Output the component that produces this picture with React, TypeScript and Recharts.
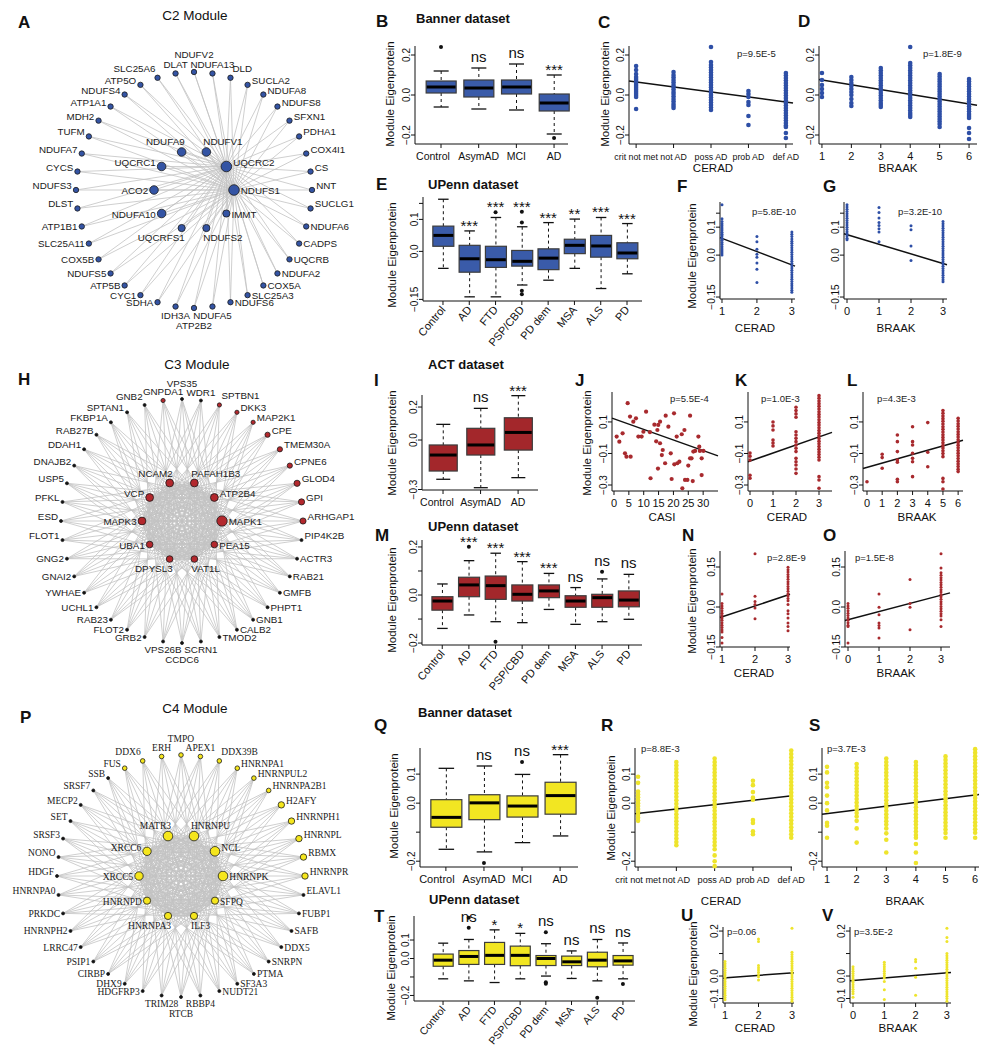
import React from 'react';
import { ComposedChart, Scatter, Bar, Line, XAxis, YAxis, ReferenceLine } from 'recharts';

const SANS = '"Liberation Sans", Arial, Helvetica, sans-serif';
const SERIF = '"Liberation Serif", "Times New Roman", Times, serif';
const INK = '#111111';

const BLUE_FILL = '#3a5ba9';
const BLUE_PT = '#2e4fa6';
const RED_FILL = '#a3272b';
const RED_PT = '#a82a2e';
const YEL_FILL = '#f2e622';
const YEL_PT = '#eee42c';

// ===================== NETWORK DATA =====================
const C2_OUTER = ['NDUFV2','NDUFA13','DLD','SUCLA2','NDUFA8','NDUFS8','SFXN1','PDHA1','COX4I1','CS','NNT','SUCLG1','NDUFA6','CADPS','UQCRB','NDUFA2','COX5A','SLC25A3','NDUFS6','NDUFA5','ATP2B2','IDH3A','SDHA','CYC1','ATP5B','NDUFS5','COX5B','SLC25A11','ATP1B1','DLST','NDUFS3','CYCS','NDUFA7','TUFM','MDH2','ATP1A1','NDUFS4','ATP5O','SLC25A6','DLAT'];
const C2_INNER = ['NDUFS1','IMMT','NDUFS2','UQCRFS1','NDUFA10','ACO2','UQCRC1','NDUFA9','NDUFV1','UQCRC2'];
const C2_HUBS = ['UQCRC2','NDUFS1'];
const C2_MID = ['NDUFA9','NDUFV1','UQCRC1','ACO2','NDUFA10'];

const C3_OUTER = ['VPS35','WDR1','SPTBN1','DKK3','MAP2K1','CPE','TMEM30A','CPNE6','GLOD4','GPI','ARHGAP1','PIP4K2B','ACTR3','RAB21','GMFB','PHPT1','GNB1','CALB2','TMOD2','SCRN1','CCDC6','VPS26B','GRB2','FLOT2','RAB23','UCHL1','YWHAE','GNAI2','GNG2','FLOT1','ESD','PFKL','USP5','DNAJB2','DDAH1','RAB27B','FKBP1A','SPTAN1','GNB2','GNPDA1'];
const C3_INNER = ['MAPK1','PEA15','VAT1L','DPYSL3','UBA1','MAPK3','VCP','NCAM2','PAFAH1B3','ATP2B4'];
const C3_RED_L = ['GLOD4','GPI','ARHGAP1'];
const C3_RED_M = ['CPNE6','TMEM30A','CPE'];
const C3_RED_S = ['MAP2K1','DKK3','SPTBN1','GNPDA1'];
const C3_HUB_L = ['MAPK1'];
const C3_HUB_M = ['ATP2B4','NCAM2','PAFAH1B3','VCP','MAPK3'];

const C4_OUTER = ['TMPO','APEX1','DDX39B','HNRNPA1','HNRNPUL2','HNRNPA2B1','H2AFY','HNRNPH1','HNRNPL','RBMX','HNRNPR','ELAVL1','FUBP1','SAFB','DDX5','SNRPN','PTMA','SF3A3','NUDT21','RBBP4','RTCB','TRIM28','HDGFRP3','DHX9','CIRBP','PSIP1','LRRC47','HNRNPH2','PRKDC','HNRNPA0','HDGF','NONO','SRSF3','SET','MECP2','SRSF7','SSB','FUS','DDX6','ERH'];
const C4_INNER = ['HNRNPK','SFPQ','ILF3','HNRNPA3','HNRNPD','XRCC5','XRCC6','MATR3','HNRNPU','NCL'];
const C4_YEL_L = ['H2AFY','HNRNPH1','HNRNPL','RBMX','HNRNPR'];
const C4_YEL_S = ['TMPO','APEX1','DDX39B','HNRNPA1','HNRNPUL2','HNRNPA2B1','ERH','DDX6','FUS'];
const C4_HUB_L = ['HNRNPK','NCL','MATR3','HNRNPU'];
const C4_HUB_M = ['XRCC6','XRCC5'];

// ===================== BOX PLOT DATA =====================
const BANNER_GROUPS = ['Control','AsymAD','MCI','AD'];
const UPENN_GROUPS = ['Control','AD','FTD','PSP/CBD','PD dem','MSA','ALS','PD'];
const ACT_GROUPS = ['Control','AsymAD','AD'];

const B_LO = [-0.06,-0.07,-0.075,-0.195];
const B_Q1 = [0.01,-0.01,0.005,-0.08];
const B_MED = [0.04,0.035,0.04,-0.04];
const B_Q3 = [0.07,0.075,0.075,0.005];
const B_HI = [0.12,0.135,0.155,0.10];
const B_SIG = ['','ns','ns','***'];
const B_OUT: [string, number][] = [['Control',0.24],['AD',-0.215]];

const E_LO = [-0.053,-0.142,-0.142,-0.105,-0.09,-0.053,-0.116,-0.07];
const E_Q1 = [0.016,-0.065,-0.05,-0.046,-0.057,-0.007,-0.018,-0.023];
const E_MED = [0.05,-0.023,-0.026,-0.031,-0.021,0.019,0.017,-0.005];
const E_Q3 = [0.079,0.019,0.016,0.003,0.008,0.038,0.05,0.027];
const E_HI = [0.163,0.064,0.106,0.077,0.09,0.101,0.106,0.087];
const E_SIG = ['','***','***','***','***','**','***','***'];
const E_OUT: [string, number][] = [['FTD',0.122],['PSP/CBD',0.124],['PSP/CBD',0.09],['PSP/CBD',-0.123],['PSP/CBD',-0.134]];

const I_LO = [-0.238,-0.289,-0.228];
const I_Q1 = [-0.188,-0.091,-0.061];
const I_MED = [-0.091,-0.03,0.046];
const I_Q3 = [-0.03,0.071,0.135];
const I_HI = [0.095,0.192,0.269];
const I_SIG = ['','ns','***'];
const I_OUT: [string, number][] = [];

const M_LO = [-0.139,-0.083,-0.111,-0.115,-0.06,-0.122,-0.111,-0.101];
const M_Q1 = [-0.063,-0.007,-0.018,-0.025,-0.011,-0.051,-0.051,-0.049];
const M_MED = [-0.025,0.042,0.039,0.003,0.017,-0.025,-0.011,-0.021];
const M_Q3 = [-0.007,0.074,0.079,0.042,0.042,-0.003,0.003,0.017];
const M_HI = [0.046,0.143,0.174,0.139,0.09,0.031,0.067,0.086];
const M_SIG = ['','***','***','***','***','ns','ns','ns'];
const M_OUT: [string, number][] = [['AD',0.201],['FTD',-0.194],['ALS',0.097]];

const Q_LO = [-0.159,-0.168,-0.136,-0.113];
const Q_Q1 = [-0.083,-0.057,-0.048,-0.038];
const Q_MED = [-0.049,0.001,-0.01,0.026];
const Q_Q3 = [0.012,0.029,0.025,0.072];
const Q_HI = [0.12,0.128,0.099,0.167];
const Q_SIG = ['','ns','ns','***'];
const Q_OUT: [string, number][] = [['AsymAD',-0.206],['MCI',0.142]];

const T_LO = [-0.11,-0.121,-0.13,-0.11,-0.095,-0.108,-0.121,-0.11];
const T_Q1 = [-0.042,-0.032,-0.032,-0.039,-0.038,-0.038,-0.045,-0.036];
const T_MED = [-0.009,0.011,0.017,0.017,0.0,-0.018,-0.009,-0.013];
const T_Q3 = [0.024,0.043,0.087,0.067,0.016,0.013,0.034,0.016];
const T_HI = [0.083,0.103,0.155,0.136,0.08,0.041,0.103,0.084];
const T_SIG = ['','ns','*','*','ns','ns','ns','ns'];
const T_OUT: [string, number][] = [['AD',0.221],['AD',0.166],['PD dem',0.142],['PD dem',-0.128],['PD dem',-0.137],['ALS',-0.213],['PD',-0.138]];

// ===================== SCATTER DATA =====================
const CERAD5 = ['crit not met','not AD','poss AD','prob AD','def AD'];

const C_X = [1,2,3,4,5];
const C_Y = [
  [0.145,0.125,0.105,0.09,0.08,0.07,0.06,0.05,0.04,0.03,0.02,0.01,0.0,-0.01,-0.07],
  [0.115,0.1,0.088,0.075,0.063,0.05,0.04,0.028,0.015,0.005,-0.008,-0.02,-0.032,-0.045,-0.055,-0.065],
  [0.24,0.165,0.15,0.138,0.125,0.112,0.1,0.088,0.075,0.063,0.05,0.038,0.025,0.013,0.0,-0.012,-0.025,-0.038,-0.05,-0.063,-0.075],
  [0.02,0.005,-0.01,-0.035,-0.05,-0.105,-0.15],
  [0.11,0.098,0.085,0.072,0.06,0.047,0.035,0.022,0.01,-0.003,-0.015,-0.028,-0.04,-0.053,-0.065,-0.078,-0.09,-0.103,-0.115,-0.128,-0.14,-0.152,-0.16,-0.19,-0.215],
];
const C_REG_X = [0.81, 5.19];
const C_REG_Y = [0.0698, -0.0398];

const D_X = [1,2,3,4,5,6];
const D_Y = [
  [0.11,0.075,0.05,0.03,0.01,-0.01],
  [0.09,0.075,0.06,0.045,0.03,0.015,0.0,-0.02,-0.04,-0.055],
  [0.135,0.122,0.11,0.097,0.085,0.072,0.06,0.047,0.035,0.022,0.01,-0.003,-0.015,-0.028,-0.04,-0.05,-0.06],
  [0.24,0.16,0.148,0.135,0.122,0.11,0.097,0.085,0.072,0.06,0.047,0.035,0.022,0.01,-0.003,-0.015,-0.028,-0.04,-0.053,-0.065,-0.078,-0.09,-0.1,-0.11],
  [0.105,0.093,0.08,0.068,0.055,0.043,0.03,0.018,0.005,-0.008,-0.02,-0.033,-0.045,-0.058,-0.07,-0.083,-0.095,-0.108,-0.12,-0.133,-0.145,-0.16],
  [0.08,0.068,0.055,0.043,0.03,0.018,0.005,-0.008,-0.02,-0.033,-0.045,-0.058,-0.07,-0.083,-0.095,-0.105,-0.115,-0.165,-0.19,-0.22],
];
const D_REG_X = [0.9, 6.27];
const D_REG_Y = [0.0774, -0.0515];

const F_X = [1,2,3];
const F_Y = [
  [0.18,0.13,0.12,0.112,0.105,0.097,0.09,0.082,0.075,0.068,0.06,0.053,0.045,0.038,0.03,0.022,0.015,0.008,0.0],
  [0.067,0.048,0.021,0.003,-0.008,-0.028,-0.051,-0.098],
  [0.083,0.075,0.067,0.058,0.05,0.042,0.034,0.026,0.018,0.01,0.002,-0.006,-0.014,-0.022,-0.03,-0.038,-0.046,-0.054,-0.062,-0.07,-0.078,-0.086,-0.094,-0.102,-0.11,-0.118,-0.126,-0.133],
];
const F_REG_X = [0.943, 3.09];
const F_REG_Y = [0.0627, -0.0393];

const G_X = [0,1,2,3];
const G_Y = [
  [0.18,0.172,0.164,0.156,0.148,0.14,0.132,0.124,0.116,0.108,0.1,0.092,0.084,0.076,0.068,0.06,0.055],
  [0.17,0.152,0.133,0.117,0.106,0.094,0.083,0.048],
  [0.105,0.091,0.033,-0.019],
  [0.12,0.112,0.104,0.096,0.088,0.08,0.072,0.064,0.056,0.048,0.04,0.032,0.024,0.016,0.008,0.0,-0.008,-0.016,-0.024,-0.032,-0.04,-0.048,-0.056,-0.064,-0.072,-0.08,-0.088,-0.095],
];
const G_REG_X = [-0.094, 3.125];
const G_REG_Y = [0.0762, -0.0342];

const J_CASI = [0.9,1.8,2.9,3.7,4.2,4.6,5.4,5.6,6.5,7.4,8.2,9.3,9.9,10.8,12.3,12.1,13.6,14.2,14.6,14.8,14.9,15.5,15.5,16.1,16.4,17.4,17.2,18.3,19.1,19.4,20.2,20.3,21.1,21.3,22.0,22.8,23.0,23.7,23.9,24.7,25.0,25.6,25.6,26.1,26.5,26.7,27.3,28.4,28.7,28.9,29.5,29.5,30.1];
const J_EIG = [0.007,-0.025,0.028,-0.099,-0.12,0.219,0.134,-0.12,0.102,0.123,0.007,0.007,0.038,0.165,-0.257,0.035,0.083,-0.023,0.049,-0.196,0.081,0.102,-0.035,-0.11,-0.078,0.14,-0.162,0.07,-0.099,-0.262,0.155,-0.169,0.007,-0.162,-0.152,0.022,-0.321,0.049,-0.268,-0.268,-0.177,0.14,-0.131,-0.131,-0.275,-0.088,-0.084,0.007,-0.057,-0.084,-0.131,-0.237,-0.084];
const J_REG_X = [-0.67, 35];
const J_REG_Y = [0.1245, -0.115];

const K_X = [0,1,2,3];
const K_Y = [
  [-0.097,-0.117,-0.142,-0.238,-0.257],
  [0.1,0.075,0.049,-0.015,-0.034,-0.053],
  [0.193,0.172,0.151,0.13,0.038,0.017,-0.004,-0.025,-0.046,-0.067,-0.088,-0.131,-0.152,-0.173,-0.198,-0.226],
  [0.267,0.25,0.233,0.216,0.199,0.182,0.165,0.148,0.131,0.114,0.097,0.08,0.063,0.046,0.029,0.012,-0.005,-0.022,-0.039,-0.056,-0.073,-0.09,-0.107,-0.124,-0.141,-0.247,-0.268,-0.321],
];
const K_REG_X = [-0.087, 3.565];
const K_REG_Y = [-0.1524, 0.0338];

const L_X = [0,1,2,3,4,5,6];
const L_Y = [
  [-0.279],
  [-0.105,-0.126,-0.194],
  [0.017,-0.025,-0.088,-0.141,-0.156,-0.264,-0.279],
  [0.07,-0.025,-0.046,-0.099,-0.131,-0.152,-0.247],
  [0.096,-0.092,-0.184],
  [0.172,0.155,0.138,0.121,0.104,0.087,0.07,0.053,0.036,0.019,0.002,-0.015,-0.032,-0.049,-0.066,-0.083,-0.1,-0.12,-0.258,-0.279,-0.325],
  [0.123,0.106,0.089,0.072,0.055,0.038,0.021,0.004,-0.013,-0.03,-0.047,-0.064,-0.081,-0.098,-0.115,-0.132,-0.149,-0.166,-0.183,-0.2,-0.215],
];
const L_REG_X = [-0.263, 6.32];
const L_REG_Y = [-0.1951, -0.0163];

const N_X = [1,2,3];
const N_Y = [
  [0.049,0.013,0.004,-0.005,-0.014,-0.023,-0.032,-0.041,-0.05,-0.059,-0.068,-0.077,-0.086,-0.094,-0.114,-0.135],
  [0.2,0.04,0.021,0.009,-0.004,-0.044],
  [0.149,0.14,0.131,0.122,0.113,0.104,0.095,0.086,0.077,0.068,0.059,0.05,0.041,0.032,0.023,0.009,-0.014,-0.025,-0.041,-0.06,-0.073,-0.089],
];
const N_REG_X = [0.94, 3.06];
const N_REG_Y = [-0.0395, 0.0475];

const O_X = [0,1,2,3];
const O_Y = [
  [0.013,0.004,-0.005,-0.014,-0.023,-0.032,-0.041,-0.05,-0.059,-0.068,-0.073,-0.135],
  [0.049,-0.001,-0.029,-0.06,-0.069,-0.079,-0.116],
  [0.103,0.013,-0.001,-0.085],
  [0.2,0.146,0.128,0.119,0.11,0.101,0.092,0.083,0.074,0.065,0.056,0.047,0.038,0.029,0.02,0.011,0.002,-0.007,-0.016,-0.025,-0.034,-0.048,-0.073],
];
const O_REG_X = [-0.097, 3.29];
const O_REG_Y = [-0.051, 0.0529];

const R_X = [1,2,3,4,5];
const R_Y = [
  [0.091,0.07,0.04,0.03,0.02,0.01,0.0,-0.01,-0.02,-0.03,-0.04,-0.05,-0.061],
  [0.142,0.13,0.118,0.106,0.094,0.082,0.07,0.058,0.046,0.034,0.022,0.01,-0.002,-0.014,-0.026,-0.038,-0.05,-0.062,-0.074,-0.086,-0.098,-0.11,-0.122,-0.134,-0.145],
  [0.154,0.142,0.13,0.118,0.106,0.094,0.082,0.07,0.058,0.046,0.034,0.022,0.01,-0.002,-0.014,-0.026,-0.038,-0.05,-0.062,-0.074,-0.086,-0.098,-0.11,-0.122,-0.134,-0.146,-0.159,-0.18,-0.2,-0.217],
  [0.077,0.062,0.038,0.019,0.012,-0.058,-0.068,-0.097,-0.107],
  [0.181,0.169,0.157,0.145,0.133,0.121,0.109,0.097,0.085,0.073,0.061,0.049,0.037,0.025,0.013,0.001,-0.011,-0.023,-0.035,-0.047,-0.059,-0.071,-0.083,-0.095,-0.107,-0.119],
];
const R_REG_X = [0.92, 5.02];
const R_REG_Y = [-0.0362, 0.0253];

const S_X = [1,2,3,4,5,6];
const S_Y = [
  [0.125,0.106,0.07,0.055,0.026,0.0,-0.025,-0.068,-0.078,-0.119],
  [0.135,0.122,0.11,0.098,0.086,0.074,0.062,0.05,0.038,0.026,0.014,0.002,-0.01,-0.022,-0.034,-0.046,-0.061,-0.087,-0.136],
  [0.154,0.142,0.13,0.118,0.106,0.094,0.082,0.07,0.058,0.046,0.034,0.022,0.01,-0.002,-0.014,-0.026,-0.038,-0.05,-0.062,-0.074,-0.087,-0.104,-0.126,-0.17],
  [0.142,0.13,0.118,0.106,0.094,0.082,0.07,0.058,0.046,0.034,0.022,0.01,-0.002,-0.014,-0.026,-0.038,-0.05,-0.062,-0.074,-0.086,-0.098,-0.11,-0.119,-0.141,-0.17,-0.206],
  [0.161,0.149,0.137,0.125,0.113,0.101,0.089,0.077,0.065,0.053,0.041,0.029,0.017,0.005,-0.007,-0.019,-0.031,-0.043,-0.055,-0.067,-0.079,-0.091,-0.103,-0.119],
  [0.186,0.174,0.162,0.15,0.138,0.126,0.114,0.102,0.09,0.078,0.066,0.054,0.042,0.03,0.018,0.006,-0.006,-0.018,-0.03,-0.042,-0.054,-0.066,-0.078,-0.09,-0.102,-0.119],
];
const S_REG_X = [0.83, 6.13];
const S_REG_Y = [-0.0382, 0.0297];

const U_X = [1,2,3];
const U_Y = [
  [0.065,0.055,0.045,0.035,0.025,0.015,0.005,-0.005,-0.015,-0.025,-0.035,-0.045,-0.055,-0.065,-0.075,-0.085,-0.095,-0.106],
  [0.165,0.153,0.047,0.037,0.027,0.017,0.007,-0.003,-0.018],
  [0.212,0.106,0.096,0.086,0.076,0.066,0.056,0.046,0.036,0.026,0.016,0.006,-0.004,-0.014,-0.024,-0.034,-0.044,-0.054,-0.064,-0.074,-0.084,-0.094,-0.104,-0.112],
];
const U_REG_X = [0.94, 3.06];
const U_REG_Y = [-0.0087, 0.0147];

const V_X = [0,1,2,3];
const V_Y = [
  [0.041,0.031,0.021,0.011,0.001,-0.009,-0.019,-0.029,-0.039,-0.049,-0.059,-0.069,-0.079,-0.094],
  [0.061,0.051,0.041,0.031,0.021,0.011,0.001,-0.009,-0.024,-0.061,-0.104],
  [0.073,0.064,0.035,-0.006,-0.085],
  [0.212,0.171,0.153,0.1,0.09,0.08,0.07,0.06,0.05,0.04,0.03,0.02,0.01,0.0,-0.01,-0.02,-0.03,-0.04,-0.05,-0.06,-0.07,-0.08,-0.09,-0.1,-0.112],
];
const V_REG_X = [-0.096, 3.13];
const V_REG_Y = [-0.0211, 0.0155];

// ===================== HELPERS =====================
type Rect = { x0: number; x1: number; y0: number; y1: number };
const YW = 24;
const MT = 30;
const MR = 18;

function frame(r: Rect, xh: number) {
  const left = r.x0 - YW;
  const top = r.y0 - MT;
  return { left, top, width: r.x1 - left + MR, height: r.y1 - top + xh };
}

function makeBoxes(groups: string[], lo: number[], q1: number[], med: number[], q3: number[], hi: number[], sig: string[]) {
  return groups.map((name, i) => ({ x: i + 1, name, lo: lo[i], q1: q1[i], med: med[i], q3: q3[i], hi: hi[i], sig: sig[i] }));
}
function makeOutliers(groups: string[], outs: [string, number][]) {
  return outs.map(([g, v]) => ({ x: groups.indexOf(g) + 1, y: v }));
}
function makeSig(boxes: any[], outs: any[]) {
  return boxes.filter((b) => b.sig).map((b) => {
    const tops = outs.filter((o) => o.x === b.x && o.y > b.hi && o.y - b.hi < 0.065).map((o) => o.y);
    return { x: b.x, y: Math.max(b.hi, ...tops), sig: b.sig };
  });
}
function columns(xs: number[], ys: number[][]) {
  return xs.flatMap((x, i) => ys[i].map((y) => ({ x, y })));
}
function pairs(xs: number[], ys: number[]) {
  return xs.map((x, i) => ({ x, y: ys[i] }));
}

const boxShape = (fill: string) => (p: any) => {
  const d = p.payload;
  if (!d || !isFinite(p.y) || !isFinite(p.height)) return <g />;
  const top = Math.min(p.y, p.y + p.height);
  const bot = Math.max(p.y, p.y + p.height);
  const py = (v: number) => bot - ((v - d.lo) / (d.hi - d.lo)) * (bot - top);
  const cx = p.x + p.width / 2;
  const cap = p.width * 0.25;
  return (
    <g>
      <line x1={cx} x2={cx} y1={py(d.hi)} y2={py(d.q3)} stroke={INK} strokeWidth={1} strokeDasharray="3 3" />
      <line x1={cx} x2={cx} y1={py(d.q1)} y2={py(d.lo)} stroke={INK} strokeWidth={1} strokeDasharray="3 3" />
      <line x1={cx - cap} x2={cx + cap} y1={py(d.hi)} y2={py(d.hi)} stroke={INK} strokeWidth={1.3} />
      <line x1={cx - cap} x2={cx + cap} y1={py(d.lo)} y2={py(d.lo)} stroke={INK} strokeWidth={1.3} />
      <rect x={p.x} y={py(d.q3)} width={p.width} height={py(d.q1) - py(d.q3)} fill={fill} stroke="#3c3c3c" strokeWidth={1.2} />
      <line x1={p.x + 0.6} x2={p.x + p.width - 0.6} y1={py(d.med)} y2={py(d.med)} stroke="#000" strokeWidth={3} />
    </g>
  );
};

const dotShape = (r: number, color: string) => (p: any) =>
  isFinite(p.cx) && isFinite(p.cy) ? <circle cx={p.cx} cy={p.cy} r={r} fill={color} /> : <g />;

const sigShape = (p: any) => {
  const t = p.payload && p.payload.sig;
  if (!t || !isFinite(p.cy)) return <g />;
  const star = t.indexOf('*') >= 0;
  return (
    <text x={p.cx} y={p.cy - (star ? 0 : 6)} textAnchor="middle" fontSize={15} fontFamily={SANS} fill={INK}>{t}</text>
  );
};

function yAxisEl(domain: number[], ticks: number[], labels: string[], fs = 10) {
  return (
    <YAxis
      type="number"
      domain={domain}
      ticks={ticks}
      interval={0}
      width={YW}
      tickSize={4}
      tickMargin={1}
      axisLine={{ stroke: INK, strokeWidth: 1 }}
      tickLine={{ stroke: INK, strokeWidth: 1 }}
      tick={(p: any) => {
        const i = ticks.indexOf(p.payload.value);
        const lbl = i >= 0 ? labels[i] : '';
        return (
          <text x={p.x} y={p.y} transform={`rotate(-90 ${p.x} ${p.y})`} textAnchor="middle" fontSize={fs} fontFamily={SANS} fill={INK}>{lbl}</text>
        );
      }}
    />
  );
}

const plainTick = (ticks: number[], labels: string[] | null, fs: number, dy: number, firstDx = 0) => (p: any) => {
  const v = p.payload.value;
  const i = ticks.indexOf(v);
  const lbl = labels ? (i >= 0 ? labels[i] : '') : String(v);
  const dx = i === 0 ? firstDx : 0;
  return <text x={p.x + dx} y={p.y + dy} textAnchor="middle" fontSize={fs} fontFamily={SANS} fill={INK}>{lbl}</text>;
};

const rotTick = (ticks: number[], labels: string[], fs: number) => (p: any) => {
  const i = ticks.indexOf(p.payload.value);
  const lbl = i >= 0 ? labels[i] : '';
  const x = p.x + 3;
  const y = p.y + 5;
  return <text x={x} y={y} transform={`rotate(-50 ${x} ${y})`} textAnchor="end" fontSize={fs} fontFamily={SANS} fill={INK}>{lbl}</text>;
};

// ===================== PANELS =====================
function BoxPanel(props: {
  rect: Rect; xDomain: number[]; yDomain: number[]; yTicks: number[]; yLabels: string[];
  groups: string[]; boxes: any[]; outliers: any[]; fill: string; boxWidth: number; rotate?: boolean; xFont?: number; firstDx?: number;
}) {
  const { rect, rotate, groups } = props;
  const xh = rotate ? 50 : 26;
  const f = frame(rect, xh);
  const xTicks = groups.map((_, i) => i + 1);
  const sig = makeSig(props.boxes, props.outliers);
  return (
    <div style={{ position: 'absolute', left: f.left, top: f.top }}>
      <ComposedChart width={f.width} height={f.height} data={props.boxes} margin={{ top: MT, right: MR, bottom: 0, left: 0 }}>
        <XAxis
          type="number"
          dataKey="x"
          domain={props.xDomain}
          ticks={xTicks}
          interval={0}
          height={xh}
          tickSize={4}
          tickMargin={0}
          axisLine={{ stroke: INK, strokeWidth: 1 }}
          tickLine={{ stroke: INK, strokeWidth: 1 }}
          tick={rotate ? rotTick(xTicks, groups, props.xFont || 11) : plainTick(xTicks, groups, props.xFont || 11, 12, props.firstDx || 0)}
        />
        {yAxisEl(props.yDomain, props.yTicks, props.yLabels)}
        <Bar dataKey={(d: any) => [d.lo, d.hi]} barSize={props.boxWidth} shape={boxShape(props.fill)} isAnimationActive={false} />
        {props.outliers.length > 0 ? (
          <Scatter data={props.outliers} dataKey="y" shape={dotShape(2, INK)} isAnimationActive={false} />
        ) : null}
        <Scatter data={sig} dataKey="y" shape={sigShape} isAnimationActive={false} />
      </ComposedChart>
    </div>
  );
}

function ScatterPanel(props: {
  rect: Rect; xDomain: number[]; yDomain: number[]; xTicks: number[]; xLabels?: string[] | null; xFont?: number;
  yTicks: number[]; yLabels: string[]; points: any[]; color: string; r: number; regX: number[]; regY: number[];
}) {
  const f = frame(props.rect, 26);
  return (
    <div style={{ position: 'absolute', left: f.left, top: f.top }}>
      <ComposedChart width={f.width} height={f.height} margin={{ top: MT, right: MR, bottom: 0, left: 0 }}>
        <XAxis
          type="number"
          dataKey="x"
          domain={props.xDomain}
          ticks={props.xTicks}
          interval={0}
          height={26}
          tickSize={4}
          tickMargin={0}
          axisLine={{ stroke: INK, strokeWidth: 1 }}
          tickLine={{ stroke: INK, strokeWidth: 1 }}
          tick={plainTick(props.xTicks, props.xLabels || null, props.xFont || 11, 12)}
        />
        {yAxisEl(props.yDomain, props.yTicks, props.yLabels)}
        <Scatter data={props.points} dataKey="y" shape={dotShape(props.r, props.color)} isAnimationActive={false} />
        <ReferenceLine
          segment={[{ x: props.regX[0], y: props.regY[0] }, { x: props.regX[1], y: props.regY[1] }]}
          stroke={INK}
          strokeWidth={1.5}
          ifOverflow="visible"
        />
      </ComposedChart>
    </div>
  );
}

function ring(names: string[], rx: number, ry: number, startDeg: number, inner: boolean, style: (n: string, inner: boolean) => { r: number; fill: string }) {
  return names.map((name, i) => {
    const a = ((startDeg + (i * 360) / names.length) * Math.PI) / 180;
    const st = style(name, inner);
    return { name, angle: a, x: rx * Math.cos(a), y: -ry * Math.sin(a), inner, r: st.r, fill: st.fill };
  });
}

const nodeShape = (font: string, fs: number) => (p: any) => {
  const n = p.payload;
  if (!n || !isFinite(p.cx) || !isFinite(p.cy)) return <g />;
  const c = Math.cos(n.angle);
  const s = Math.sin(n.angle);
  let anchor = 'middle';
  let dx = 0;
  let dy = 0;
  const g = n.r + 1.5;
  if (n.inner) {
    if (c > 0.5) { anchor = 'start'; dx = g; dy = s < 0 ? 0 : 4; }
    else if (c < -0.5) { anchor = 'end'; dx = -g; dy = s < 0 ? 0 : 4; }
    else { anchor = c >= 0 ? 'start' : 'end'; dx = c >= 0 ? -3 : 3; dy = s < 0 ? -g - 1 : g + 8; }
  } else {
    if (Math.abs(c) > 0.2 && Math.abs(c) < 0.4 && s < 0) {
      anchor = c > 0 ? 'start' : 'end';
      dx = c > 0 ? 2 : -2;
      dy = -g - 2;
    } else if (c > 0.2) { anchor = 'start'; dx = g; dy = s < 0.2 ? -1 : 3.5; }
    else if (c < -0.2) { anchor = 'end'; dx = -g; dy = s < 0.2 ? -1 : 3.5; }
    else {
      const stagger = Math.abs(c) < 0.05 ? 8 : 0;
      dy = s < 0 ? -g - 1.5 - stagger : g + 8.5 + stagger;
    }
  }
  return (
    <g>
      <circle cx={p.cx} cy={p.cy} r={n.r} fill={n.fill} stroke="#1c1c1c" strokeWidth={0.8} />
      <text x={p.cx + dx} y={p.cy + dy} textAnchor={anchor as any} fontSize={fs} fontFamily={font} fill="#1a1a1a">{n.name}</text>
    </g>
  );
};

function NetworkPanel(props: {
  cx: number; cy: number; rx: number; ry: number; rin: number; left: number; top: number; width: number; height: number;
  outer: string[]; inner: string[]; style: (n: string, inner: boolean) => { r: number; fill: string };
  mode: 'hubs' | 'dense'; hubs?: string[]; font: string; fs: number;
}) {
  const outer = ring(props.outer, props.rx, props.ry, -90, false, props.style);
  const inner = ring(props.inner, props.rin, props.rin, 0, true, props.style);
  const edges: any[][] = [];
  if (props.mode === 'hubs') {
    const hubs = inner.filter((n) => (props.hubs || []).indexOf(n.name) >= 0);
    const others = outer.concat(inner.filter((n) => hubs.indexOf(n) < 0));
    others.forEach((o) => hubs.forEach((h) => edges.push([o, h])));
    for (let i = 0; i < hubs.length; i++) for (let j = i + 1; j < hubs.length; j++) edges.push([hubs[i], hubs[j]]);
  } else {
    outer.forEach((o) => {
      const ranked = inner
        .map((n) => {
          const d = Math.abs(((((n.angle - o.angle) * 180) / Math.PI) % 360 + 540) % 360 - 180);
          return { n, d };
        })
        .sort((a, b) => b.d - a.d)
        .slice(0, 5);
      ranked.forEach((q) => edges.push([o, q.n]));
    });
    for (let i = 0; i < inner.length; i++) for (let j = i + 1; j < inner.length; j++) edges.push([inner[i], inner[j]]);
  }
  const edgeData = edges.flatMap(([a, b]) => [{ x: a.x, y: a.y }, { x: b.x, y: b.y }, { x: b.x, y: null }]);
  const nodes = inner.concat(outer);
  const xDomain = [props.left - props.cx, props.left + props.width - props.cx];
  const yDomain = [props.cy - (props.top + props.height), props.cy - props.top];
  return (
    <div style={{ position: 'absolute', left: props.left, top: props.top }}>
      <ComposedChart width={props.width} height={props.height} margin={{ top: 0, right: 0, bottom: 0, left: 0 }}>
        <XAxis type="number" dataKey="x" domain={xDomain} hide allowDataOverflow />
        <YAxis type="number" domain={yDomain} hide allowDataOverflow />
        <Line data={edgeData} dataKey="y" stroke="#c3c3c3" strokeWidth={0.8} dot={false} activeDot={false} connectNulls={false} isAnimationActive={false} />
        <Scatter data={nodes} dataKey="y" shape={nodeShape(props.font, props.fs)} isAnimationActive={false} />
      </ComposedChart>
    </div>
  );
}

const c2Style = (n: string, inner: boolean) => {
  const fill = '#3454a4';
  if (!inner) return { r: 2.7, fill };
  if (C2_HUBS.indexOf(n) >= 0) return { r: 5.3, fill };
  if (C2_MID.indexOf(n) >= 0) return { r: 4.3, fill };
  return { r: 3.6, fill };
};
const c3Style = (n: string, inner: boolean) => {
  const red = '#b3282d';
  if (inner) {
    if (C3_HUB_L.indexOf(n) >= 0) return { r: 5.2, fill: red };
    if (C3_HUB_M.indexOf(n) >= 0) return { r: 3.9, fill: red };
    return { r: 3.3, fill: red };
  }
  if (C3_RED_L.indexOf(n) >= 0) return { r: 3.1, fill: red };
  if (C3_RED_M.indexOf(n) >= 0) return { r: 2.6, fill: red };
  if (C3_RED_S.indexOf(n) >= 0) return { r: 2.1, fill: red };
  return { r: 1.5, fill: '#111' };
};
const c4Style = (n: string, inner: boolean) => {
  const yel = '#f5e61d';
  if (inner) {
    if (C4_HUB_L.indexOf(n) >= 0) return { r: 4.8, fill: yel };
    if (C4_HUB_M.indexOf(n) >= 0) return { r: 4.2, fill: yel };
    return { r: 3.6, fill: yel };
  }
  if (C4_YEL_L.indexOf(n) >= 0) return { r: 3.2, fill: yel };
  if (C4_YEL_S.indexOf(n) >= 0) return { r: 2.3, fill: yel };
  return { r: 1.5, fill: '#111' };
};

// ===================== ANNOTATIONS =====================
const LETTERS: [string, number, number][] = [
  ['A', 18, 28], ['B', 376, 27], ['C', 598, 28], ['D', 798, 27],
  ['E', 376, 190], ['F', 677, 192], ['G', 823, 192],
  ['H', 18, 385], ['I', 374, 386], ['J', 575, 386], ['K', 735, 386], ['L', 847, 386],
  ['M', 375, 541], ['N', 682, 541], ['O', 823, 541],
  ['P', 20, 723], ['Q', 374, 731], ['R', 601, 731], ['S', 809, 731],
  ['T', 374, 922], ['U', 681, 921], ['V', 822, 921],
];
const MODULE_TITLES: [string, number, number][] = [['C2 Module', 195, 20], ['C3 Module', 197, 369], ['C4 Module', 195, 713]];
const DATASET_TITLES: [string, number, number][] = [
  ['Banner dataset', 416, 23], ['UPenn dataset', 428, 189], ['ACT dataset', 428, 369],
  ['UPenn dataset', 428, 531], ['Banner dataset', 418, 717], ['UPenn dataset', 429, 904],
];
const YTITLES: [number, number][] = [
  [390, 94], [605, 94], [392, 255], [692, 256], [392, 443], [587, 443],
  [392, 600], [692, 601], [394, 806], [611, 808], [391, 968], [693, 974],
];
const XTITLES: [string, number, number][] = [
  ['CERAD', 713, 172], ['BRAAK', 898, 172], ['CERAD', 755, 332], ['BRAAK', 896, 332],
  ['CASI', 662, 521], ['CERAD', 787, 521], ['BRAAK', 917, 521],
  ['CERAD', 754, 677], ['BRAAK', 896, 677], ['CERAD', 721, 905], ['BRAAK', 905, 905],
  ['CERAD', 755, 1032], ['BRAAK', 898, 1032],
];
const PVALS: [string, number, number][] = [
  ['p=9.5E-5', 737, 57], ['p=1.8E-9', 923, 57], ['p=5.8E-10', 752, 215], ['p=3.2E-10', 898, 215],
  ['p=5.5E-4', 670, 402], ['p=1.0E-3', 761, 402], ['p=4.3E-3', 877, 402],
  ['p=2.8E-9', 767, 561], ['p=1.5E-8', 855, 561], ['p=8.8E-3', 641, 752], ['p=3.7E-3', 827, 752],
  ['p=0.06', 727, 935], ['p=3.5E-2', 854, 935],
];

function Overlay() {
  return (
    <svg width={986} height={1050} style={{ position: 'absolute', left: 0, top: 0, pointerEvents: 'none' }}>
      {LETTERS.map(([t, x, y]) => (
        <text key={'l' + t} x={x} y={y} fontSize={17} fontWeight={700} fontFamily={SANS} fill={INK}>{t}</text>
      ))}
      {MODULE_TITLES.map(([t, x, y]) => (
        <text key={'m' + t} x={x} y={y} fontSize={13.5} textAnchor="middle" fontFamily={SANS} fill={INK}>{t}</text>
      ))}
      {DATASET_TITLES.map(([t, x, y], i) => (
        <text key={'d' + i} x={x} y={y} fontSize={13} fontWeight={700} fontFamily={SANS} fill={INK}>{t}</text>
      ))}
      {YTITLES.map(([x, y], i) => (
        <text key={'y' + i} x={x} y={y} transform={`rotate(-90 ${x} ${y})`} textAnchor="middle" dominantBaseline="central" fontSize={11.5} fontFamily={SANS} fill={INK}>Module Eigenprotein</text>
      ))}
      {XTITLES.map(([t, x, y], i) => (
        <text key={'x' + i} x={x} y={y} textAnchor="middle" fontSize={11.5} fontFamily={SANS} fill={INK}>{t}</text>
      ))}
      {PVALS.map(([t, x, y], i) => (
        <text key={'p' + i} x={x} y={y} fontSize={9.5} fontFamily={SANS} fill="#222">{t}</text>
      ))}
    </svg>
  );
}

// ===================== APP =====================
export default function App() {
  const bBoxes = makeBoxes(BANNER_GROUPS, B_LO, B_Q1, B_MED, B_Q3, B_HI, B_SIG);
  const eBoxes = makeBoxes(UPENN_GROUPS, E_LO, E_Q1, E_MED, E_Q3, E_HI, E_SIG);
  const iBoxes = makeBoxes(ACT_GROUPS, I_LO, I_Q1, I_MED, I_Q3, I_HI, I_SIG);
  const mBoxes = makeBoxes(UPENN_GROUPS, M_LO, M_Q1, M_MED, M_Q3, M_HI, M_SIG);
  const qBoxes = makeBoxes(BANNER_GROUPS, Q_LO, Q_Q1, Q_MED, Q_Q3, Q_HI, Q_SIG);
  const tBoxes = makeBoxes(UPENN_GROUPS, T_LO, T_Q1, T_MED, T_Q3, T_HI, T_SIG);

  const yStd = { t: [0.2, 0, -0.2], l: ['0.2', '0.0', '\u22120.2'] };
  const yUp = { t: [0.15, 0.1, 0, -0.15], l: ['', '0.1', '0.0', '\u22120.15'] };
  const yAct = { t: [0.1, -0.1, -0.3], l: ['0.1', '\u22120.1', '\u22120.3'] };
  const yN = { t: [0.15, 0, -0.15], l: ['0.15', '0.0', '\u22120.15'] };
  const yQ = { t: [0.1, 0, -0.1, -0.2], l: ['0.1', '0.0', '', '\u22120.2'] };
  const yU = { t: [0.2, 0.1, 0, -0.1], l: ['0.2', '', '0.0', '\u22120.1'] };

  return (
    <div style={{ position: 'absolute', left: 0, top: 0, width: 986, height: 1050, background: '#ffffff', overflow: 'hidden' }}>
      <NetworkPanel cx={194} cy={190} rx={118} ry={118} rin={40} left={0} top={30} width={375} height={315}
        outer={C2_OUTER} inner={C2_INNER} style={c2Style} mode="hubs" hubs={C2_HUBS} font={SANS} fs={9.8} />
      <NetworkPanel cx={182} cy={521} rx={121} ry={122} rin={40} left={0} top={368} width={375} height={312}
        outer={C3_OUTER} inner={C3_INNER} style={c3Style} mode="dense" font={SANS} fs={9.8} />
      <NetworkPanel cx={181} cy={876} rx={124} ry={121} rin={42} left={0} top={720} width={375} height={318}
        outer={C4_OUTER} inner={C4_INNER} style={c4Style} mode="dense" font={SERIF} fs={9.5} />

      <BoxPanel rect={{ x0: 415, x1: 568, y0: 46, y1: 144 }} xDomain={[0.31, 4.37]} yDomain={[-0.245, 0.245]}
        yTicks={yStd.t} yLabels={yStd.l} groups={BANNER_GROUPS} boxes={bBoxes} outliers={makeOutliers(BANNER_GROUPS, B_OUT)}
        fill={BLUE_FILL} boxWidth={30} xFont={10.5} firstDx={-8} />
      <ScatterPanel rect={{ x0: 629, x1: 793, y0: 46, y1: 144 }} xDomain={[0.81, 5.19]} yDomain={[-0.245, 0.245]}
        xTicks={C_X} xLabels={CERAD5} xFont={8.8} yTicks={yStd.t} yLabels={yStd.l}
        points={columns(C_X, C_Y)} color={BLUE_PT} r={2.3} regX={C_REG_X} regY={C_REG_Y} />
      <ScatterPanel rect={{ x0: 819, x1: 977, y0: 46, y1: 144 }} xDomain={[0.9, 6.27]} yDomain={[-0.245, 0.245]}
        xTicks={D_X} yTicks={yStd.t} yLabels={yStd.l}
        points={columns(D_X, D_Y)} color={BLUE_PT} r={2.3} regX={D_REG_X} regY={D_REG_Y} />

      <BoxPanel rect={{ x0: 423, x1: 642, y0: 197, y1: 301 }} xDomain={[0.24, 8.57]} yDomain={[-0.155, 0.17]}
        yTicks={yUp.t} yLabels={yUp.l} groups={UPENN_GROUPS} boxes={eBoxes} outliers={makeOutliers(UPENN_GROUPS, E_OUT)}
        fill={BLUE_FILL} boxWidth={21} rotate />
      <ScatterPanel rect={{ x0: 720, x1: 795, y0: 202, y1: 299 }} xDomain={[0.943, 3.09]} yDomain={[-0.157, 0.19]}
        xTicks={F_X} yTicks={yUp.t} yLabels={yUp.l}
        points={columns(F_X, F_Y)} color={BLUE_PT} r={1.5} regX={F_REG_X} regY={F_REG_Y} />
      <ScatterPanel rect={{ x0: 844, x1: 947, y0: 202, y1: 299 }} xDomain={[-0.094, 3.125]} yDomain={[-0.157, 0.19]}
        xTicks={G_X} yTicks={yUp.t} yLabels={yUp.l}
        points={columns(G_X, G_Y)} color={BLUE_PT} r={1.5} regX={G_REG_X} regY={G_REG_Y} />

      <BoxPanel rect={{ x0: 422, x1: 538, y0: 395, y1: 490 }} xDomain={[0.44, 3.53]} yDomain={[-0.303, 0.273]}
        yTicks={[0.2, 0, -0.3]} yLabels={['0.2', '0.0', '\u22120.3']} groups={ACT_GROUPS} boxes={iBoxes}
        outliers={makeOutliers(ACT_GROUPS, I_OUT)} fill={RED_FILL} boxWidth={28} xFont={10.5} firstDx={-6} />
      <ScatterPanel rect={{ x0: 612, x1: 718, y0: 392, y1: 491 }} xDomain={[-0.67, 35]} yDomain={[-0.338, 0.29]}
        xTicks={[0, 5, 10, 15, 20, 25, 30]} yTicks={yAct.t} yLabels={yAct.l}
        points={pairs(J_CASI, J_EIG)} color={RED_PT} r={2.1} regX={J_REG_X} regY={J_REG_Y} />
      <ScatterPanel rect={{ x0: 748, x1: 832, y0: 392, y1: 491 }} xDomain={[-0.087, 3.565]} yDomain={[-0.338, 0.29]}
        xTicks={K_X} yTicks={yAct.t} yLabels={yAct.l}
        points={columns(K_X, K_Y)} color={RED_PT} r={1.8} regX={K_REG_X} regY={K_REG_Y} />
      <ScatterPanel rect={{ x0: 863, x1: 963, y0: 392, y1: 491 }} xDomain={[-0.263, 6.32]} yDomain={[-0.338, 0.29]}
        xTicks={L_X} yTicks={yAct.t} yLabels={yAct.l}
        points={columns(L_X, L_Y)} color={RED_PT} r={1.8} regX={L_REG_X} regY={L_REG_Y} />

      <BoxPanel rect={{ x0: 422, x1: 642, y0: 540, y1: 645 }} xDomain={[0.24, 8.5]} yDomain={[-0.208, 0.229]}
        yTicks={[0.2, 0.1, 0, -0.1, -0.2]} yLabels={['0.2', '', '0.0', '', '\u22120.2']} groups={UPENN_GROUPS} boxes={mBoxes}
        outliers={makeOutliers(UPENN_GROUPS, M_OUT)} fill={RED_FILL} boxWidth={21} rotate />
      <ScatterPanel rect={{ x0: 720, x1: 790, y0: 551, y1: 647 }} xDomain={[0.94, 3.06]} yDomain={[-0.15, 0.21]}
        xTicks={N_X} yTicks={yN.t} yLabels={yN.l}
        points={columns(N_X, N_Y)} color={RED_PT} r={1.5} regX={N_REG_X} regY={N_REG_Y} />
      <ScatterPanel rect={{ x0: 845, x1: 950, y0: 551, y1: 647 }} xDomain={[-0.097, 3.29]} yDomain={[-0.15, 0.21]}
        xTicks={O_X} yTicks={yN.t} yLabels={yN.l}
        points={columns(O_X, O_Y)} color={RED_PT} r={1.5} regX={O_REG_X} regY={O_REG_Y} />

      <BoxPanel rect={{ x0: 420, x1: 578, y0: 748, y1: 867 }} xDomain={[0.32, 4.47]} yDomain={[-0.22, 0.19]}
        yTicks={yQ.t} yLabels={yQ.l} groups={BANNER_GROUPS} boxes={qBoxes} outliers={makeOutliers(BANNER_GROUPS, Q_OUT)}
        fill={YEL_FILL} boxWidth={31} xFont={11} firstDx={-9} />
      <ScatterPanel rect={{ x0: 635, x1: 792, y0: 748, y1: 867 }} xDomain={[0.92, 5.02]} yDomain={[-0.22, 0.19]}
        xTicks={R_X} xLabels={CERAD5} xFont={9.2} yTicks={yQ.t} yLabels={yQ.l}
        points={columns(R_X, R_Y)} color={YEL_PT} r={2.3} regX={R_REG_X} regY={R_REG_Y} />
      <ScatterPanel rect={{ x0: 822, x1: 979, y0: 748, y1: 867 }} xDomain={[0.83, 6.13]} yDomain={[-0.22, 0.19]}
        xTicks={S_X} yTicks={yQ.t} yLabels={yQ.l}
        points={columns(S_X, S_Y)} color={YEL_PT} r={2.3} regX={S_REG_X} regY={S_REG_Y} />

      <BoxPanel rect={{ x0: 414, x1: 635, y0: 916, y1: 1001 }} xDomain={[-0.13, 8.47]} yDomain={[-0.23, 0.23]}
        yTicks={[0.1, 0, -0.1, -0.2]} yLabels={['0.1', '0.0', '', '\u22120.2']} groups={UPENN_GROUPS} boxes={tBoxes}
        outliers={makeOutliers(UPENN_GROUPS, T_OUT)} fill={YEL_FILL} boxWidth={20} rotate xFont={10.5} />
      <ScatterPanel rect={{ x0: 723, x1: 794, y0: 927, y1: 1003 }} xDomain={[0.94, 3.06]} yDomain={[-0.12, 0.218]}
        xTicks={U_X} yTicks={yU.t} yLabels={yU.l}
        points={columns(U_X, U_Y)} color={YEL_PT} r={1.5} regX={U_REG_X} regY={U_REG_Y} />
      <ScatterPanel rect={{ x0: 850, x1: 951, y0: 927, y1: 1003 }} xDomain={[-0.096, 3.13]} yDomain={[-0.12, 0.218]}
        xTicks={V_X} yTicks={yU.t} yLabels={yU.l}
        points={columns(V_X, V_Y)} color={YEL_PT} r={1.5} regX={V_REG_X} regY={V_REG_Y} />

      <Overlay />
    </div>
  );
}
